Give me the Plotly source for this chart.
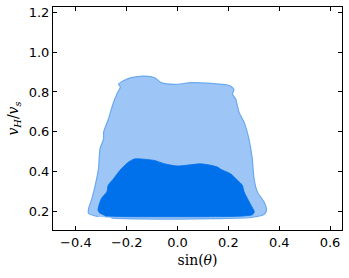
import plotly.graph_objects as go

# Outer (light) credible region boundary
outer_x = [-0.311, -0.35, -0.35, -0.337, -0.324, -0.311, -0.305, -0.291, -0.291, -0.272,
           -0.252, -0.239, -0.225, -0.232, -0.215, -0.182, -0.129, -0.09, -0.064, -0.012,
           0.054, 0.132, 0.204, 0.222, 0.216, 0.229, 0.242, 0.262, 0.281, 0.288, 0.294,
           0.301, 0.314, 0.340, 0.350, 0.34, 0.288, 0.15, 0.0, -0.15, -0.26]
outer_y = [0.172, 0.188, 0.213, 0.263, 0.33, 0.413, 0.514, 0.563, 0.597, 0.664,
           0.747, 0.789, 0.825, 0.838, 0.855, 0.872, 0.88, 0.872, 0.847, 0.838,
           0.847, 0.843, 0.833, 0.813, 0.789, 0.763, 0.697, 0.647, 0.563, 0.514, 0.463,
           0.363, 0.297, 0.247, 0.205, 0.183, 0.168, 0.162, 0.16, 0.161, 0.165]

# Inner (dark) credible region boundary
inner_x = [-0.305, -0.313, -0.30, -0.278, -0.273, -0.252, -0.227, -0.193, -0.169, -0.09,
           -0.051, 0.001, 0.093, 0.157, 0.171, 0.209, 0.236, 0.255, 0.262, 0.289,
           0.302, 0.295, 0.235, 0.1, -0.05, -0.195, -0.285]
inner_y = [0.188, 0.205, 0.263, 0.297, 0.33, 0.363, 0.405, 0.447, 0.463, 0.455,
           0.438, 0.427, 0.438, 0.422, 0.41, 0.388, 0.355, 0.33, 0.297, 0.23,
           0.197, 0.182, 0.174, 0.172, 0.172, 0.172, 0.175]

x_ticks = [-0.4, -0.2, 0.0, 0.2, 0.4, 0.6]
y_ticks = [0.2, 0.4, 0.6, 0.8, 1.0, 1.2]

fig = go.Figure()
fig.add_trace(go.Scatter(
    x=outer_x, y=outer_y, mode="lines", fill="toself",
    fillcolor="#9dc6f6", line=dict(color="#6aa9f1", width=1.2, shape="spline", smoothing=0.6),
    hoverinfo="skip", showlegend=False))
fig.add_trace(go.Scatter(
    x=inner_x, y=inner_y, mode="lines", fill="toself",
    fillcolor="#0071eb", line=dict(color="#0071eb", width=0.8, shape="spline", smoothing=0.6),
    hoverinfo="skip", showlegend=False))

axis_common = dict(
    showline=True, mirror="ticks", linecolor="black", linewidth=1,
    ticks="inside", ticklen=4, tickcolor="black", tickwidth=1,
    showgrid=False, zeroline=False, automargin=False,
    tickfont=dict(family="DejaVu Sans", size=13, color="black"),
    tickformat=".1f",
)

fig.update_layout(
    width=349, height=278,
    margin=dict(l=53, r=7, t=7, b=48),
    paper_bgcolor="white", plot_bgcolor="white",
    xaxis=dict(range=[-0.49, 0.647], tickvals=x_ticks,
               title=dict(text="sin(<i>θ</i>)", font=dict(family="DejaVu Serif", size=14, color="black"), standoff=6),
               **axis_common),
    yaxis=dict(range=[0.105, 1.228], tickvals=y_ticks,
               title=dict(text="<i>v</i><sub><i>H</i></sub>/<i>v</i><sub><i>s</i></sub>",
                          font=dict(family="DejaVu Serif", size=14, color="black"), standoff=6),
               **axis_common),
)

fig.write_html("out.html",
               config={"displayModeBar": False},
               post_script="document.body.style.margin='0';document.body.style.padding='0';")
